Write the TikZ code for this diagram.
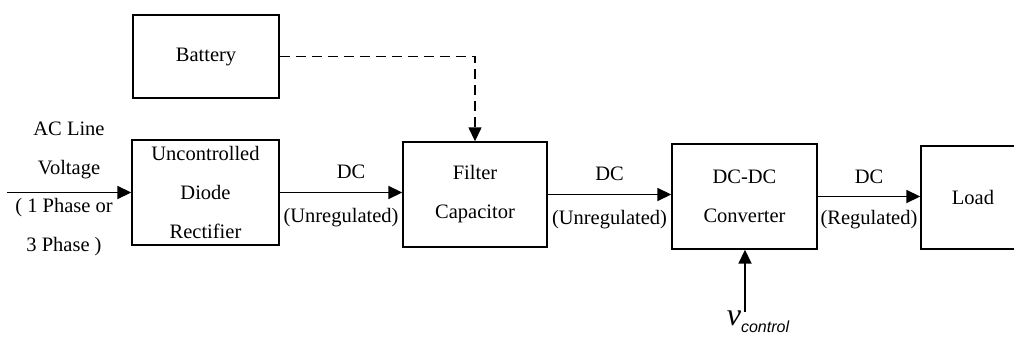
\documentclass[tikz,border=0pt]{standalone}
\usepackage{fontspec}
\setmainfont{Liberation Serif}
\setsansfont{Liberation Sans}
\usetikzlibrary{arrows.meta}

\tikzset{
  blk/.style={draw, line width=0.7pt, align=center, inner sep=0pt},
  lbl/.style={align=center, inner sep=0pt},
  arr/.style={line width=0.9pt, -{Triangle[length=7pt,width=6.5pt]}},
}

\begin{document}
\begin{tikzpicture}[x=0.5pt, y=-0.5pt, font=\fontsize{10.25}{19.5}\selectfont]
    \useasboundingbox (0,0) rectangle (1014,338);

    % blocks
    \node[blk, minimum width=73pt, minimum height=41.5pt] (batt) at (206,56.5) {Battery};
    \node[blk, minimum width=73.5pt, minimum height=52.5pt] (rect) at (205.5,192.5) {Uncontrolled\\Diode\\Rectifier};
    \node[blk, minimum width=72pt, minimum height=52.5pt] (filter) at (475,194.5) {Filter\\Capacitor};
    \node[blk, minimum width=72.5pt, minimum height=52.5pt] (dcdc) at (744.5,196.5) {DC-DC\\Converter};
    \node[blk, minimum width=52pt, minimum height=51.5pt] (load) at (973,197.5) {Load};

    % input side
    \coordinate (ac) at (7,192.5);
    \node[lbl] (acup) at (69,150.5) {AC Line\\Voltage};
    \node[lbl] (acdown) at (64,227) {( 1 Phase or\\3 Phase )};
    \draw[arr] (ac) -- (rect.west);

    % main chain
    \draw[arr] (rect.east) -- node[lbl, xshift=5pt, yshift=10.5pt] {DC}
        node[lbl, yshift=-12.5pt] {(Unregulated)} (rect.east -| filter.west);
    \draw[arr] (filter.east) -- node[lbl, yshift=10.5pt] {DC}
        node[lbl, yshift=-12.5pt] {(Unregulated)} (filter.east -| dcdc.west);
    \draw[arr] (dcdc.east) -- node[lbl, yshift=10pt] {DC}
        node[lbl, yshift=-11.5pt] {(Regulated)} (dcdc.east -| load.west);

    % battery and control
    \draw[arr, dashed, dash pattern=on 5pt off 3pt, line width=0.7pt] (batt.east) -| (filter.north);
    \coordinate (vcin) at (745,312);
    \node[lbl] (vc) at (758,322) {{\fontsize{16}{16}\selectfont\itshape v}\raisebox{-3.5pt}{\fontsize{8}{8}\selectfont\sffamily\itshape control}};
    \draw[arr] (vcin) -- (vcin |- dcdc.south);
\end{tikzpicture}
\end{document}
